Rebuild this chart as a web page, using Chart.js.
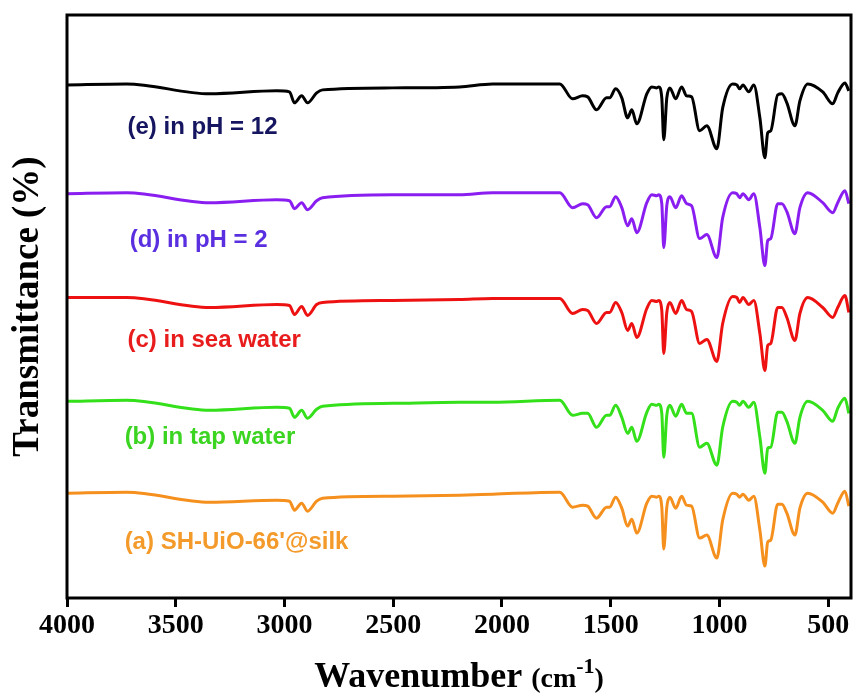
<!DOCTYPE html>
<html>
<head>
<meta charset="utf-8">
<script src="https://cdn.jsdelivr.net/npm/chart.js@4.4.1/dist/chart.umd.min.js"></script>
<style>
  html, body { margin: 0; padding: 0; background: #fff; }
</style>
</head>
<body>
<canvas id="ftirChart" width="853" height="695"></canvas>
<script>
// Wavenumbers (cm-1) shared by all spectra
const wavenumbers = [4000, 3726, 3344, 3036, 2977, 2954, 2921, 2894, 2852, 2825,
  2503, 2195, 2043, 1734, 1675, 1629, 1606, 1565, 1519, 1505,
  1477, 1449, 1422, 1403, 1380, 1334, 1311, 1288, 1279, 1265,
  1256, 1242, 1228, 1201, 1174, 1151, 1128, 1091, 1058, 1012,
  985, 939, 920, 907, 892, 865, 842, 814, 791, 778,
  764, 732, 713, 690, 653, 630, 594, 525, 479, 456,
  423, 405];

// Transmittance (arbitrary, stacked)
const phTwelve = [514, 515, 505, 508, 507, 496, 503, 496, 506, 509,
  511, 512, 515, 515, 500, 503, 502, 489, 501, 501,
  510, 501, 481, 489, 475, 505, 512, 511, 512, 501,
  459, 501, 511, 500, 512, 503, 502, 468, 473, 450,
  491, 515, 514, 510, 514, 507, 514, 481, 441, 466,
  468, 504, 505, 496, 473, 498, 515, 507, 495, 506,
  516, 508];
const phTwo = [405, 406, 396, 399, 398, 390, 396, 389, 398, 401,
  404, 404, 406, 406, 391, 395, 394, 381, 392, 392,
  402, 391, 373, 380, 366, 396, 404, 403, 404, 395,
  351, 393, 402, 391, 403, 395, 393, 360, 364, 341,
  381, 406, 405, 401, 405, 399, 405, 371, 333, 358,
  360, 395, 395, 387, 365, 391, 406, 396, 386, 396,
  408, 395];
const seaWater = [301, 301, 291, 294, 293, 284, 292, 283, 294, 296,
  298, 299, 300, 300, 285, 289, 288, 275, 286, 286,
  296, 286, 268, 275, 261, 290, 298, 297, 298, 288,
  245, 286, 296, 285, 298, 289, 287, 255, 259, 237,
  275, 302, 301, 296, 301, 294, 298, 265, 228, 253,
  255, 291, 291, 281, 258, 285, 301, 291, 281, 291,
  303, 286];
const tapWater = [197, 198, 188, 191, 190, 181, 188, 180, 189, 192,
  195, 196, 196, 198, 183, 185, 185, 171, 183, 183,
  193, 181, 165, 171, 157, 186, 194, 193, 194, 185,
  141, 183, 193, 182, 194, 185, 185, 151, 155, 133,
  171, 197, 196, 193, 197, 191, 196, 161, 125, 150,
  151, 186, 186, 177, 155, 181, 197, 188, 177, 190,
  200, 185];
const pristine = [105, 106, 96, 98, 97, 88, 95, 87, 97, 100,
  102, 103, 104, 106, 91, 93, 92, 80, 91, 91,
  101, 90, 72, 79, 65, 95, 102, 101, 102, 91,
  49, 91, 101, 90, 102, 93, 92, 60, 63, 40,
  78, 105, 104, 101, 104, 98, 102, 68, 32, 56,
  58, 94, 94, 85, 63, 90, 105, 96, 85, 95,
  107, 92];

const seriesNames = ['(e) in pH = 12', '(d) in pH = 2', '(c) in sea water', '(b) in tap water', "(a) SH-UiO-66'@silk"];
const seriesValues = [phTwelve, phTwo, seaWater, tapWater, pristine];
const lineColors = ['#000000', '#8a1ef0', '#ee1111', '#33e01a', '#f5901e'];
const labelColors = ['#161660', '#5a2fe0', '#e81c1c', '#3ad421', '#f39a2a'];
// label anchor (wavenumber, transmittance)
const labelX = [3722, 3712, 3722, 3735, 3735];
const labelY = [471, 358, 258, 161, 56];

const xTicks = [4000, 3500, 3000, 2500, 2000, 1500, 1000, 500];

// white background
const bgPlugin = {
    id: 'bg',
    beforeDraw(chart) {
        const ctx = chart.ctx;
        ctx.save();
        ctx.fillStyle = '#ffffff';
        ctx.fillRect(0, 0, chart.width, chart.height);
        ctx.restore();
    }
};

// box around the plot, series labels and x title with superscript
const decorPlugin = {
    id: 'decor',
    afterDraw(chart) {
        const ctx = chart.ctx;
        const area = chart.chartArea;
        const xs = chart.scales.x;
        const ys = chart.scales.y;
        ctx.save();

        // series labels
        ctx.textBaseline = 'middle';
        ctx.textAlign = 'left';
        ctx.font = 'bold 24px "Liberation Sans", Arial, sans-serif';
        seriesNames.forEach((name, i) => {
            ctx.fillStyle = labelColors[i];
            ctx.fillText(name, xs.getPixelForValue(labelX[i]), ys.getPixelForValue(labelY[i]));
        });

        // frame
        ctx.strokeStyle = '#000';
        ctx.lineWidth = 3;
        ctx.strokeRect(area.left, area.top, area.right - area.left, area.bottom - area.top);

        // x title: Wavenumber (cm-1)
        const parts = [
            { t: 'Wavenumber ', f: 'bold 36px "Liberation Serif", serif', dy: 0 },
            { t: '(cm', f: 'bold 28px "Liberation Serif", serif', dy: 0 },
            { t: '-1', f: 'bold 22px "Liberation Serif", serif', dy: -14 },
            { t: ')', f: 'bold 28px "Liberation Serif", serif', dy: 0 }
        ];
        let total = 0;
        parts.forEach(p => { ctx.font = p.f; p.w = ctx.measureText(p.t).width; total += p.w; });
        let x = (area.left + area.right) / 2 - total / 2;
        const baseY = 687;
        ctx.fillStyle = '#000';
        ctx.textBaseline = 'alphabetic';
        parts.forEach(p => {
            ctx.font = p.f;
            ctx.fillText(p.t, x, baseY + p.dy);
            x += p.w;
        });
        ctx.restore();
    }
};

const datasets = seriesValues.map((vals, i) => ({
    label: seriesNames[i],
    data: wavenumbers.map((wn, j) => ({ x: wn, y: vals[j] })),
    borderColor: lineColors[i],
    borderWidth: 3,
    pointRadius: 0,
    fill: false,
    cubicInterpolationMode: 'monotone'
}));

const ctx = document.getElementById('ftirChart').getContext('2d');
const ftirChart = new Chart(ctx, {
    type: 'line',
    data: { datasets: datasets },
    plugins: [bgPlugin, decorPlugin],
    options: {
        responsive: false,
        devicePixelRatio: 1,
        animation: false,
        layout: { padding: { top: 15, right: 2, left: 0, bottom: 0 } },
        plugins: {
            legend: { display: false },
            tooltip: { enabled: false }
        },
        scales: {
            x: {
                type: 'linear',
                reverse: true,
                min: 395,
                max: 4000,
                afterBuildTicks: (scale) => {
                    scale.ticks = xTicks.map(v => ({ value: v }));
                },
                afterFit: (scale) => { scale.height = 97; },
                ticks: {
                    color: '#000',
                    padding: 2,
                    maxRotation: 0,
                    callback: (value) => String(value),
                    font: { family: '"Liberation Serif", serif', size: 28, weight: 'bold' }
                },
                grid: {
                    drawOnChartArea: false,
                    drawTicks: true,
                    tickLength: 9,
                    tickWidth: 3,
                    tickColor: '#000'
                },
                border: { display: false }
            },
            y: {
                min: 0,
                max: 584,
                afterFit: (scale) => { scale.width = 67; },
                ticks: { display: false },
                grid: { display: false },
                border: { display: false },
                title: {
                    display: true,
                    text: 'Transmittance (%)',
                    color: '#000',
                    padding: { top: 6, bottom: 0 },
                    font: { family: '"Liberation Serif", serif', size: 37, weight: 'bold' }
                }
            }
        }
    }
});
</script>
</body>
</html>
